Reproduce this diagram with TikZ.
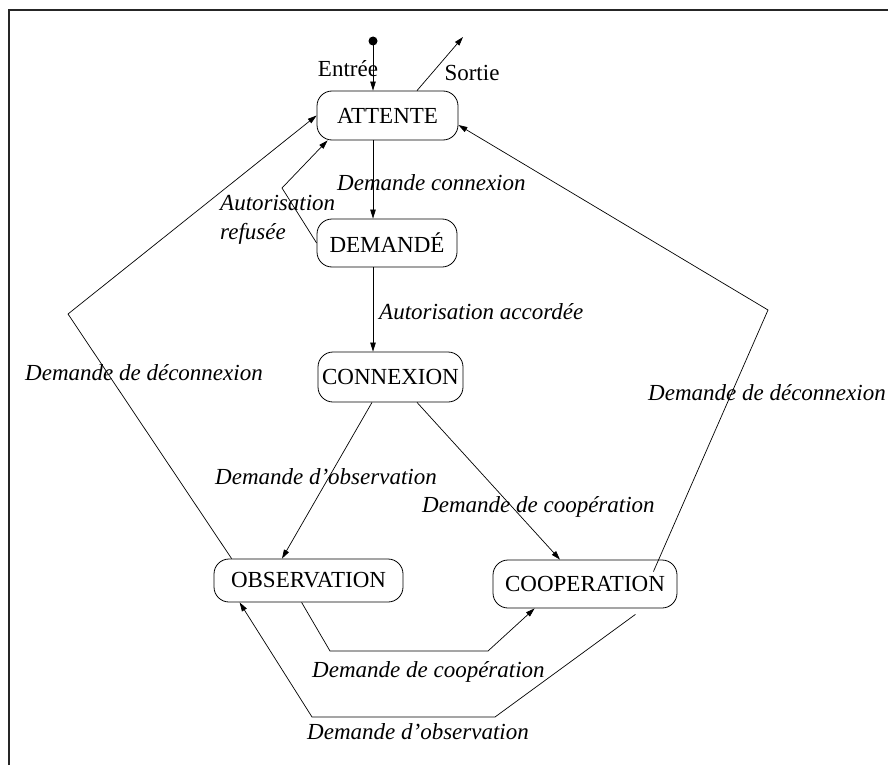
\documentclass[tikz,border=0pt]{standalone}
\usepackage{fontspec}
\setmainfont{Liberation Serif}
\usetikzlibrary{arrows.meta}
\begin{document}
\begin{tikzpicture}[x=1pt,y=-1pt,
  every node/.style={font=\fontsize{23}{29}\selectfont},
  state/.style={draw, line width=0.8pt, rounded corners=15pt, inner sep=0pt},
  lbl/.style={inner sep=0pt, font=\fontsize{23}{29}\selectfont\itshape},
  plain/.style={inner sep=0pt},
  link/.style={line width=0.7pt},
  arr/.style={link, -{Triangle[length=9pt,width=5.5pt]}},
  frameline/.style={line width=2pt, black!85}]
\useasboundingbox (0,0) rectangle (888,765);

% frame
\coordinate (f1) at (9,765);
\coordinate (f2) at (9,10);
\coordinate (f3) at (888,10);
\draw[frameline] (f1) -- (f2) -- (f3);

% states
\node[state, minimum width=141pt, minimum height=49pt] (att)  at (387.5,115.5) {ATTENTE};
\node[state, minimum width=140pt, minimum height=48pt] (dem)  at (387,243) {DEMANDÉ};
\node[state, minimum width=145pt, minimum height=50pt] (con)  at (390.5,377) {CONNEXION};
\node[state, minimum width=189pt, minimum height=43pt] (obs)  at (308.5,580.5) {OBSERVATION};
\node[state, minimum width=184pt, minimum height=48pt] (coop) at (585,584) {COOPERATION};

% entry and exit
\coordinate (entry) at (373,41);
\fill (entry) circle (4.5pt);
\draw[arr] (entry) -- (att.north -| entry);
\node[plain] (lentry) at (348,69) {Entrée};
\coordinate (exit) at (463,37);
\draw[arr] ([xshift=29.5pt]att.north) -- (exit);
\node[plain] (lexit) at (472,73) {Sortie};

% ATTENTE -> DEMANDE
\coordinate (a1) at ([xshift=-14.5pt]att.south);
\draw[arr] (a1) -- (a1 |- dem.north);
\node[lbl, anchor=west] (l1) at (337,183) {Demande connexion};

% DEMANDE -> ATTENTE (refused)
\coordinate (r1) at (282,188);
\draw[arr] (dem.west) -- (r1) -- ([xshift=11pt]att.south west);
\node[lbl, anchor=west, align=left] (l2) at (220,220) {Autorisation\\refusée};

% DEMANDE -> CONNEXION
\coordinate (d1) at ([xshift=-14pt]dem.south);
\draw[arr] (d1) -- (d1 |- con.north);
\node[lbl, anchor=west] (l3) at (379,312) {Autorisation accordée};

% CONNEXION -> OBSERVATION / COOPERATION
\draw[arr] ([xshift=-18.5pt]con.south) -- ([xshift=-26.5pt]obs.north);
\node[lbl, anchor=west] (l4) at (215,477) {Demande d’observation};
\draw[arr] ([xshift=26.5pt]con.south) -- ([xshift=-25pt]coop.north);
\node[lbl, anchor=west] (l5) at (422,507) {Demande de coopération};

% disconnection from OBSERVATION
\coordinate (k1) at (68,314);
\draw[arr] ([xshift=18pt]obs.north west) -- (k1) -- (att.west);
\node[lbl, anchor=west] (l6) at (25,373) {Demande de déconnexion};

% disconnection from COOPERATION
\coordinate (k2) at (768,310);
\draw[arr] ([xshift=-24pt,yshift=-12pt]coop.north east) -- (k2) -- ([yshift=-9.5pt]att.east);
\node[lbl, anchor=west] (l7) at (648,393) {Demande de déconnexion};

% OBSERVATION -> COOPERATION (lower route)
\coordinate (b1) at (330,651);
\coordinate (b2) at (488,651);
\draw[arr] ([xshift=88pt]obs.south west) -- (b1) -- (b2) -- ([xshift=42pt]coop.south west);
\node[lbl, anchor=west] (l8) at (312,672) {Demande de coopération};

% COOPERATION -> OBSERVATION (lowest route)
\coordinate (c1) at (495,717);
\coordinate (c2) at (312,717);
\draw[arr] ([xshift=-42pt,yshift=-6pt]coop.south east) -- (c1) -- (c2) -- ([xshift=26pt]obs.south west);
\node[lbl, anchor=west] (l9) at (307,732) {Demande d’observation};
\end{tikzpicture}
\end{document}
